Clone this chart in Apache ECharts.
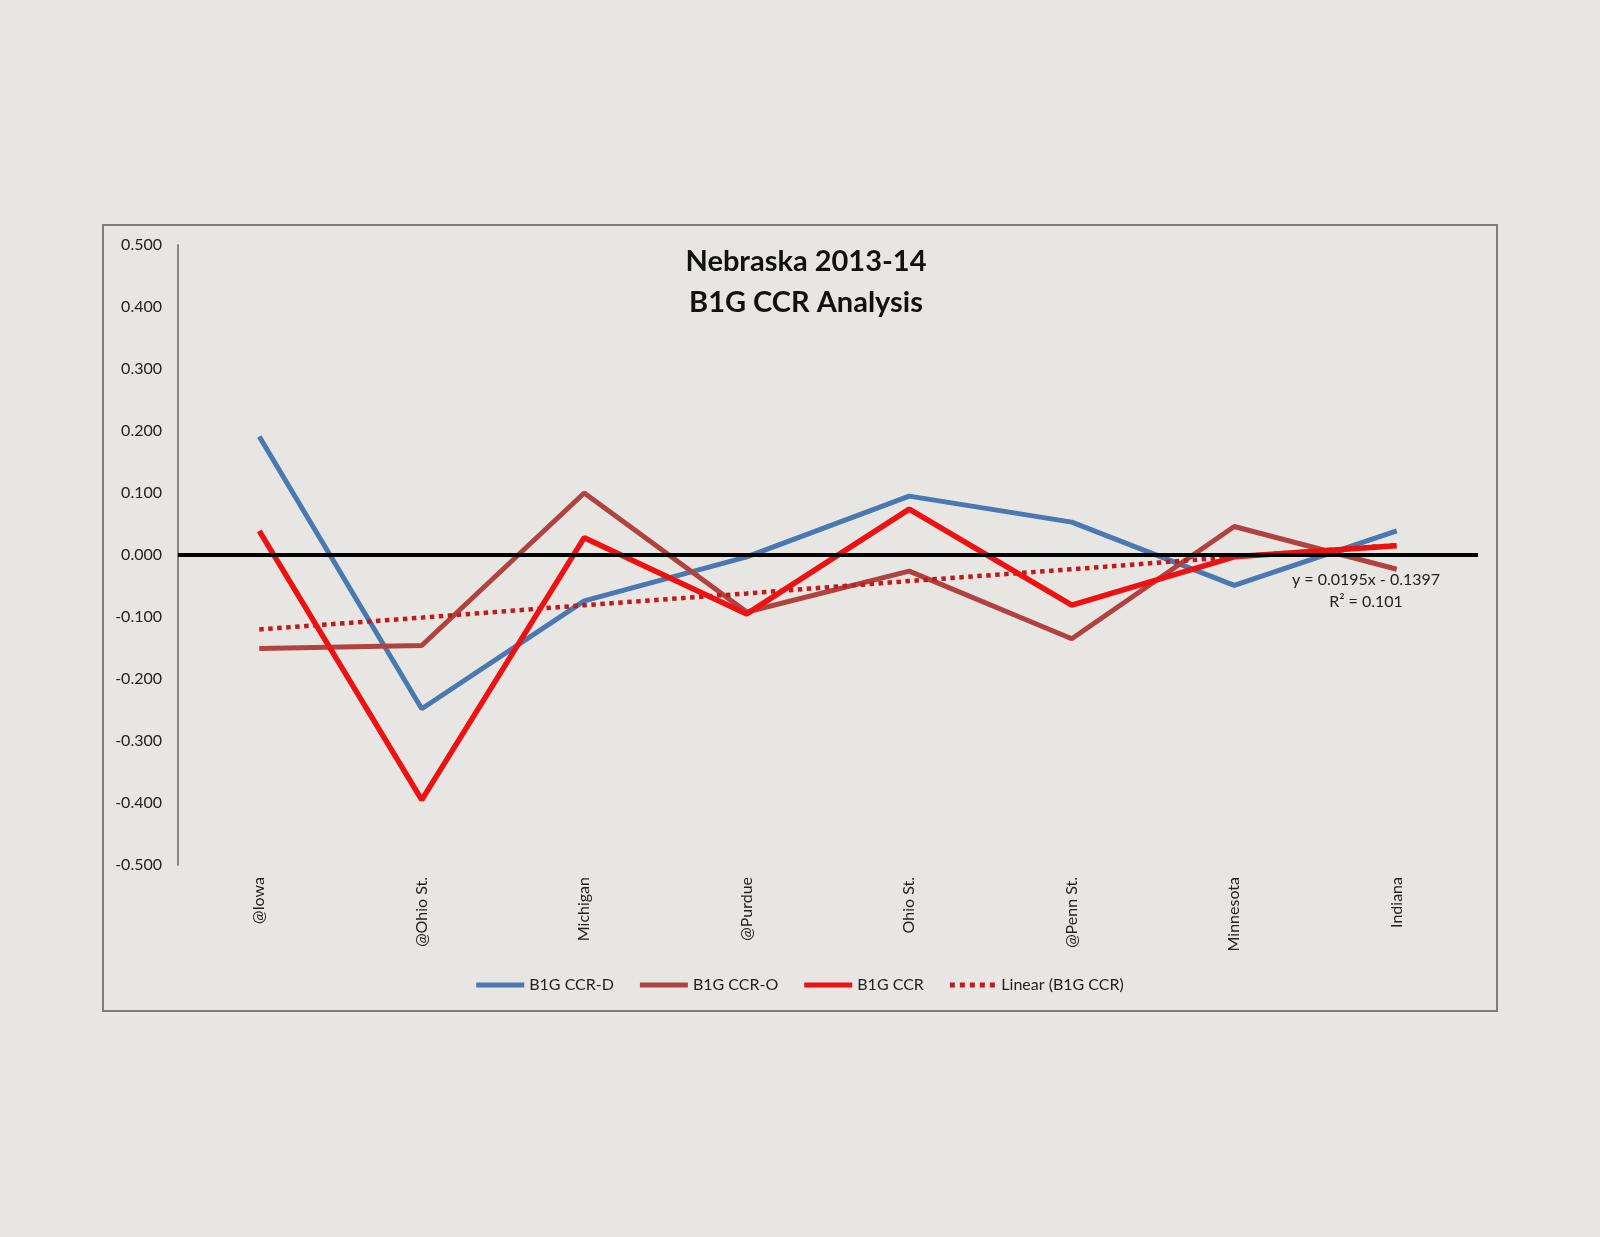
<!DOCTYPE html>
<html>
<head>
<meta charset="utf-8">
<title>Nebraska 2013-14 B1G CCR Analysis</title>
<script src="https://cdn.jsdelivr.net/npm/echarts@6/dist/echarts.min.js"></script>
<style>
  html, body { margin: 0; padding: 0; background: #e8e6e3; }
  #chart { width: 1600px; height: 1237px; }
</style>
</head>
<body>
<div id="chart"></div>
<script>
// games, in order played
var games = ['@Iowa', '@Ohio St.', 'Michigan', '@Purdue', 'Ohio St.', '@Penn St.', 'Minnesota', 'Indiana'];

// values
var ccrD = [0.191, -0.248, -0.074, -0.003, 0.095, 0.053, -0.049, 0.039];
var ccrO = [-0.151, -0.146, 0.100, -0.092, -0.026, -0.135, 0.046, -0.023];
var ccr = [0.039, -0.395, 0.028, -0.095, 0.074, -0.081, -0.003, 0.015];
// trendline as drawn (y = 0.0195x - 0.1397)
var ccrTrend = [-0.120, -0.101, -0.081, -0.062, -0.042, -0.023, -0.003, 0.016];

var trendText = ['y = 0.0195x - 0.1397', 'R\u00B2 = 0.101'];

var font = 'Lato, "Liberation Sans", sans-serif';

// five dots for the trendline legend key
var dotsIcon = 'path://M0,0h1v1h-1z M2,0h1v1h-1z M4,0h1v1h-1z M6,0h1v1h-1z M8,0h1v1h-1z';

var chart = echarts.init(document.getElementById('chart'));

var option = {
	backgroundColor: '#e8e6e3',
	animation: false,
	title: {
		text: 'Nebraska 2013-14\nB1G CCR Analysis',
		left: 801,
		top: 236,
		textAlign: 'center',
		textStyle: {
			fontFamily: font,
			fontSize: 29,
			fontWeight: 'bold',
			color: '#111',
			lineHeight: 41
		}
	},
	legend: {
		bottom: 1237 - 998,
		left: 'center',
		itemWidth: 48,
		itemHeight: 5,
		itemGap: 26,
		textStyle: {
			fontFamily: font,
			fontSize: 16,
			color: '#222'
		},
		data: [
			{ name: 'B1G CCR-D', icon: 'rect' },
			{ name: 'B1G CCR-O', icon: 'rect' },
			{ name: 'B1G CCR', icon: 'rect' },
			{ name: 'Linear (B1G CCR)', icon: dotsIcon }
		]
	},
	grid: {
		left: 178,
		right: 122,
		top: 245,
		bottom: 372
	},
	xAxis: {
		type: 'category',
		data: games,
		boundaryGap: true,
		axisLine: { show: false, onZero: false },
		axisTick: { show: false },
		axisLabel: {
			rotate: 90,
			margin: 12,
			fontFamily: font,
			fontSize: 16,
			color: '#222'
		},
		splitLine: { show: false }
	},
	yAxis: {
		type: 'value',
		min: -0.5,
		max: 0.5,
		interval: 0.1,
		axisLine: { show: true, lineStyle: { color: '#858585', width: 2 } },
		axisTick: { show: false },
		splitLine: { show: false },
		axisLabel: {
			margin: 16,
			fontFamily: font,
			fontSize: 16,
			color: '#222',
			formatter: function (v) { return v.toFixed(3); }
		}
	},
	graphic: [{
		type: 'rect',
		shape: { x: 103, y: 225, width: 1394, height: 786 },
		style: { fill: 'none', stroke: '#7d7d7d', lineWidth: 2 },
		silent: true
	}, {
		type: 'text',
		x: 1366,
		y: 572,
		style: {
			text: trendText[0],
			align: 'center',
			verticalAlign: 'top',
			font: '16px ' + font,
			fill: '#222'
		}
	}, {
		type: 'text',
		x: 1366,
		y: 594,
		style: {
			text: trendText[1],
			align: 'center',
			verticalAlign: 'top',
			font: '16px ' + font,
			fill: '#222'
		}
	}],
	series: [{
		name: 'B1G CCR-D',
		type: 'line',
		data: ccrD,
		symbol: 'none',
		lineStyle: { color: '#4a78b0', width: 5 },
		itemStyle: { color: '#4a78b0' },
		markLine: {
			silent: true,
			symbol: 'none',
			label: { show: false },
			lineStyle: { color: '#000', width: 4, type: 'solid' },
			data: [{ yAxis: 0 }]
		},
		z: 3
	}, {
		name: 'B1G CCR-O',
		type: 'line',
		data: ccrO,
		symbol: 'none',
		lineStyle: { color: '#b0433f', width: 5 },
		itemStyle: { color: '#b0433f' },
		z: 3
	}, {
		name: 'B1G CCR',
		type: 'line',
		data: ccr,
		symbol: 'none',
		lineStyle: { color: '#ee1111', width: 5.5 },
		itemStyle: { color: '#ee1111' },
		z: 4
	}, {
		name: 'Linear (B1G CCR)',
		type: 'line',
		data: ccrTrend,
		symbol: 'none',
		lineStyle: { color: '#c21a1a', width: 4.5, type: [4.5, 4.5] },
		itemStyle: { color: '#c21a1a' },
		z: 3
	}]
};

chart.setOption(option);
</script>
</body>
</html>
